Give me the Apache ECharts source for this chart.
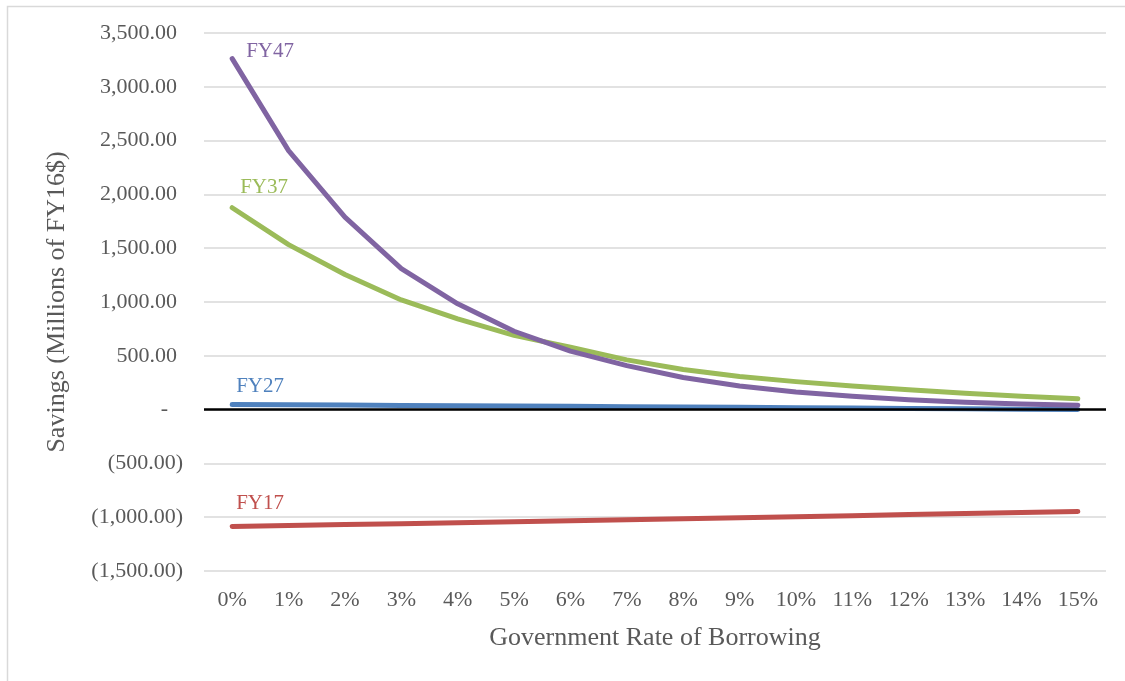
<!DOCTYPE html>
<html>
<head>
<meta charset="utf-8">
<script src="https://cdn.jsdelivr.net/npm/echarts@6/dist/echarts.min.js"></script>
<style>html,body{margin:0;padding:0;background:#fff}#c{width:1125px;height:681px}</style>
</head>
<body>
<div id="c"></div>
<script>
const categories = ['0%','1%','2%','3%','4%','5%','6%','7%','8%','9%','10%','11%','12%','13%','14%','15%'];
const fy17 = [-1087,-1078,-1069,-1060,-1051,-1042,-1033,-1024,-1014,-1005,-995,-986,-976,-966,-956,-946];
const fy27 = [48,45,42,39,36,33,30,27,24,21,18,15,11,8,4,1];
const fy37 = [1876,1533,1255,1019,843,690,579,462,372,307,260,220,185,152,125,100];
const fy47 = [3262,2407,1788,1310,983,728,543,409,298,220,163,124,92,68,52,40];
const seriesNames = ['FY17','FY27','FY37','FY47'];
const seriesColors = ['#C0504D','#4F81BD','#9BBB59','#8064A2'];
const labelOffsets = [[4,-23],[4,-18],[8,-20],[14,-7]];
const yMin = -1500, yMax = 3500, yStep = 500;

function fmtY(v){
  if (v === 0) return '{z|-}';
  const s = Math.abs(v).toLocaleString('en-US',{minimumFractionDigits:2,maximumFractionDigits:2});
  return v < 0 ? '{n|(' + s + ')}' : '{p|' + s + '}';
}
const font = 'Liberation Serif';
const dataSets = [fy17, fy27, fy37, fy47];
const series = dataSets.map((d, i) => ({
  name: seriesNames[i],
  type: 'line',
  data: d,
  symbol: 'circle',
  symbolSize: 0.01,
  showSymbol: true,
  silent: true,
  itemStyle: {color: seriesColors[i]},
  lineStyle: {color: seriesColors[i], width: 5, cap: 'round', join: 'round'},
  label: {
    show: true,
    position: labelOffsets[i],
    verticalAlign: 'middle',
    align: 'left',
    color: seriesColors[i],
    fontFamily: font,
    fontSize: 21,
    formatter: p => p.dataIndex === 0 ? seriesNames[i] : ''
  },
  z: 3 + i
}));
series.push({
  type: 'line', data: [], silent: true,
  markLine: {
    silent: true, symbol: 'none', label: {show: false},
    lineStyle: {color: '#000', width: 2.5, type: 'solid'},
    data: [{yAxis: 0}]
  },
  z: 2
});

const chart = echarts.init(document.getElementById('c'), null, {renderer: 'canvas'});
chart.setOption({
  animation: false,
  backgroundColor: '#fff',
  grid: {left: 204, right: 19, top: 33, bottom: 110},
  graphic: [{
    type: 'rect', left: 5, top: 4, z: -10,
    shape: {x: 0, y: 0, width: 1200, height: 760},
    style: {fill: 'none', stroke: '#d9d9d9', lineWidth: 1.5}
  }],
  xAxis: {
    type: 'category', data: categories, boundaryGap: true,
    axisLine: {show: false}, axisTick: {show: false},
    axisLabel: {color: '#595959', fontFamily: font, fontSize: 22, margin: 18},
    name: 'Government Rate of Borrowing', nameLocation: 'middle', nameGap: 54,
    nameTextStyle: {color: '#595959', fontFamily: font, fontSize: 26, verticalAlign: 'top'}
  },
  yAxis: {
    type: 'value', min: yMin, max: yMax, interval: yStep,
    axisLine: {show: false}, axisTick: {show: false},
    splitLine: {lineStyle: {color: '#d9d9d9', width: 1.5}},
    axisLabel: {
      color: '#595959', fontFamily: font, fontSize: 22, margin: 21,
      formatter: fmtY,
      rich: {
        p: {color: '#595959', fontFamily: font, fontSize: 22, padding: [0,6,0,0]},
        n: {color: '#595959', fontFamily: font, fontSize: 22},
        z: {color: '#595959', fontFamily: font, fontSize: 22, padding: [0,15,0,0]}
      }
    },
    name: 'Savings (Millions of FY16$)', nameLocation: 'middle', nameGap: 134,
    nameTextStyle: {color: '#595959', fontFamily: font, fontSize: 26}
  },
  series: series
});
</script>
</body>
</html>
